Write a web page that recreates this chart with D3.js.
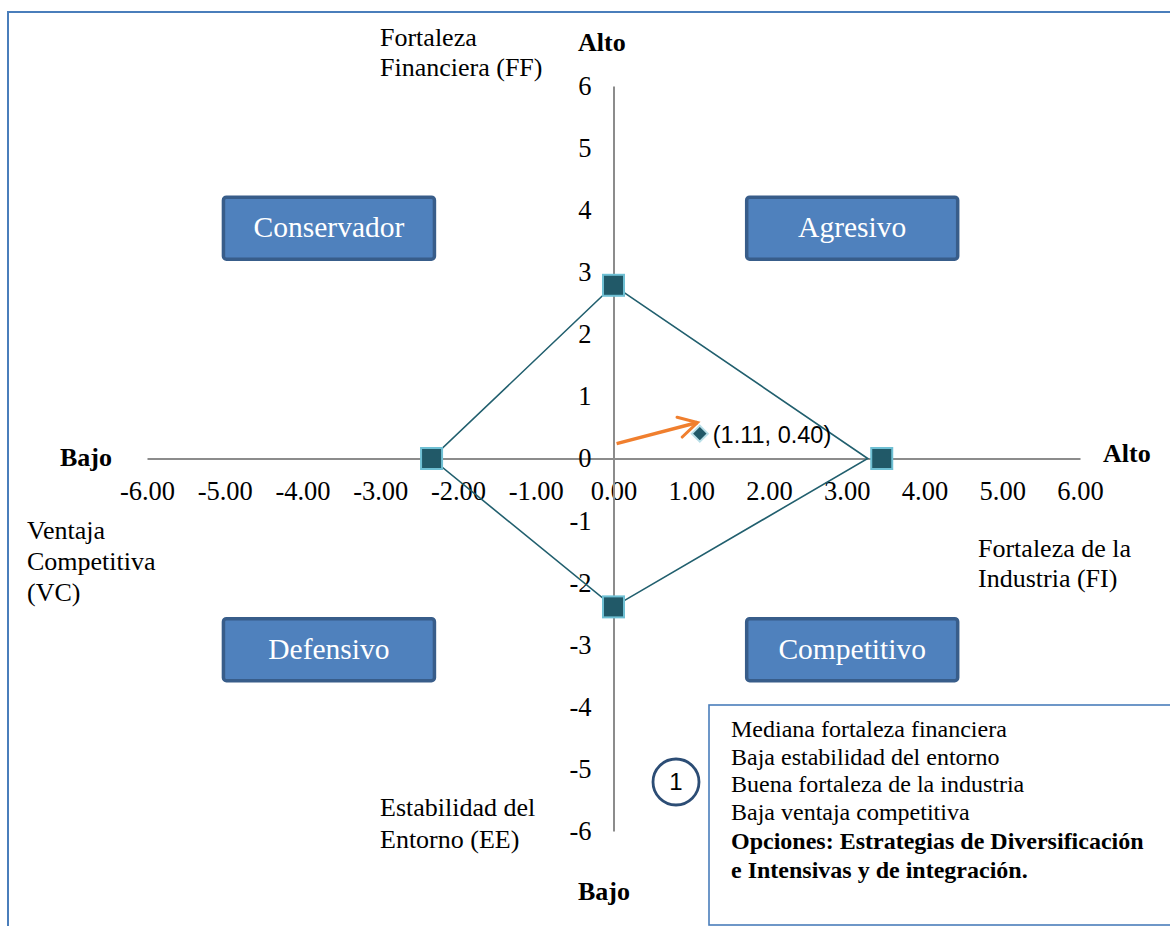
<!DOCTYPE html>
<html>
<head>
<meta charset="utf-8">
<script src="https://cdn.jsdelivr.net/npm/d3@7"></script>
<style>
  html, body { margin: 0; padding: 0; background: #ffffff; }
  svg { display: block; }
</style>
</head>
<body>
<svg id="chart" width="1170" height="926"></svg>
<script>
// ---- Data --------------------------------------------------------------
const xTickValues = [-6, -5, -4, -3, -2, -1, 0, 1, 2, 3, 4, 5, 6];
const yTickValues = [-6, -5, -4, -3, -2, -1, 0, 1, 2, 3, 4, 5, 6];

// Vertices of the PEYEA polygon: FF (top), FI (right), EE (bottom), VC (left)
const vertexNames = ["FF", "FI", "EE", "VC"];
const vertexX = [0, 3.27, 0, -2.34];
const vertexY = [2.79, 0, -2.39, 0];

// Square markers of the series
const markerX = [0, 3.45, 0, -2.34];
const markerY = [2.79, 0, -2.39, 0];

// Resulting direction vector
const resultX = 1.11;
const resultY = 0.40;
const resultLabel = "(1.11, 0.40)";

// Arrow pointing at the result (start / end, data units)
const arrowX = [0.04, 1.08];
const arrowY = [0.24, 0.58];

const quadrantNames = ["Conservador", "Agresivo", "Defensivo", "Competitivo"];

const notesLines = [
  "Mediana fortaleza financiera",
  "Baja estabilidad del entorno",
  "Buena fortaleza de la industria",
  "Baja ventaja competitiva"
];
const notesBold = [
  "Opciones: Estrategias de Diversificación",
  "e Intensivas y de integración."
];

// ---- Layout ------------------------------------------------------------
const serif = "'Liberation Serif', 'Times New Roman', serif";
const sans = "'Liberation Sans', Arial, sans-serif";

const svg = d3.select("#chart");

const x = d3.scaleLinear().domain([-6, 6]).range([147, 1080]);
const y = d3.scaleLinear().domain([-6, 6]).range([831, 86]);

const fmtX = d => d.toFixed(2);
const fmtY = d => String(d);

// Outer frame
svg.append("path")
  .attr("d", "M1180,12 L8,12 L8,936")
  .attr("fill", "none")
  .attr("stroke", "#4a7ebb")
  .attr("stroke-width", 2);

// ---- Axes --------------------------------------------------------------
const xAxis = svg.append("g")
  .attr("transform", `translate(0,${y(0)})`)
  .call(d3.axisBottom(x).tickValues(xTickValues).tickFormat(fmtX)
    .tickSize(0).tickSizeOuter(0).tickPadding(23));

const yAxis = svg.append("g")
  .attr("transform", `translate(${x(0)},0)`)
  .call(d3.axisLeft(y).tickValues(yTickValues).tickFormat(fmtY)
    .tickSize(0).tickSizeOuter(0).tickPadding(22));

[xAxis, yAxis].forEach(g => {
  g.select(".domain").attr("stroke", "#8c8c8c").attr("stroke-width", 2);
  g.selectAll("text")
    .attr("fill", "#000")
    .style("font-family", serif)
    .style("font-size", "26.5px");
});

// ---- Axis captions -----------------------------------------------------
function multiline(lines, x0, y0, step, opts = {}) {
  const t = svg.append("text")
    .attr("x", x0).attr("y", y0)
    .attr("fill", "#000")
    .style("font-family", serif)
    .style("font-size", (opts.size || 26) + "px")
    .style("font-weight", opts.bold ? "bold" : "normal")
    .attr("text-anchor", opts.anchor || "start");
  lines.forEach((l, i) => {
    t.append("tspan").attr("x", x0).attr("y", y0 + i * step).text(l);
  });
  return t;
}

multiline(["Fortaleza", "Financiera (FF)"], 380, 46, 30);
multiline(["Alto"], 578, 51, 0, { bold: true });
multiline(["Bajo"], 60, 466, 0, { bold: true });
multiline(["Alto"], 1103, 462, 0, { bold: true });
multiline(["Ventaja", "Competitiva", "(VC)"], 27, 539, 31);
multiline(["Fortaleza de la", "Industria (FI)"], 978, 557, 30);
multiline(["Estabilidad del", "Entorno (EE)"], 380, 816, 32);
multiline(["Bajo"], 578, 900, 0, { bold: true });

// ---- Quadrant boxes ----------------------------------------------------
const boxW = 211, boxH = 62;
const boxCenters = [
  [x(-3.66), y(3.71)],
  [x(3.07), y(3.71)],
  [x(-3.66), y(-3.08)],
  [x(3.07), y(-3.08)]
];
const boxes = svg.append("g").selectAll("g")
  .data(quadrantNames)
  .join("g")
  .attr("transform", (d, i) => `translate(${boxCenters[i][0]},${boxCenters[i][1]})`);
boxes.append("rect")
  .attr("x", -boxW / 2).attr("y", -boxH / 2)
  .attr("width", boxW).attr("height", boxH)
  .attr("rx", 3)
  .attr("fill", "#4f81bd")
  .attr("stroke", "#385d8a")
  .attr("stroke-width", 3.5);
boxes.append("text")
  .attr("text-anchor", "middle")
  .attr("dy", "0.3em")
  .attr("fill", "#ffffff")
  .style("font-family", serif)
  .style("font-size", "29.5px")
  .text(d => d);

// ---- Polygon -----------------------------------------------------------
const poly = vertexNames.map((n, i) => [x(vertexX[i]), y(vertexY[i])]);
svg.append("path")
  .attr("d", d3.line()(poly.concat([poly[0]])))
  .attr("fill", "none")
  .attr("stroke", "#215f6e")
  .attr("stroke-width", 1.6);

const msz = 21;
svg.append("g").selectAll("rect")
  .data(markerX.map((mx, i) => [mx, markerY[i]]))
  .join("rect")
  .attr("x", d => x(d[0]) - msz / 2)
  .attr("y", d => y(d[1]) - msz / 2)
  .attr("width", msz).attr("height", msz)
  .attr("fill", "#215968")
  .attr("stroke", "#6fc0d4")
  .attr("stroke-width", 2);

// ---- Result vector -----------------------------------------------------
const defs = svg.append("defs");
defs.append("marker")
  .attr("id", "arrowHead")
  .attr("viewBox", "0 0 12 12")
  .attr("refX", 10).attr("refY", 6)
  .attr("markerWidth", 7).attr("markerHeight", 7)
  .attr("markerUnits", "strokeWidth")
  .attr("orient", "auto")
  .append("path")
  .attr("d", "M1,1 L10,6 L1,11")
  .attr("fill", "none")
  .attr("stroke", "#f07f2e")
  .attr("stroke-width", 1.5)
  .attr("stroke-linecap", "round");

svg.append("line")
  .attr("x1", x(arrowX[0])).attr("y1", y(arrowY[0]))
  .attr("x2", x(arrowX[1])).attr("y2", y(arrowY[1]))
  .attr("stroke", "#f07f2e")
  .attr("stroke-width", 3.5)
  .attr("marker-end", "url(#arrowHead)");

const ds = 8;
svg.append("path")
  .attr("transform", `translate(${x(resultX)},${y(resultY)})`)
  .attr("d", `M0,${-ds} L${ds},0 L0,${ds} L${-ds},0 Z`)
  .attr("fill", "#215968")
  .attr("stroke", "#b9dfe8")
  .attr("stroke-width", 2);

svg.append("text")
  .attr("x", x(resultX) + 13)
  .attr("y", y(resultY) + 9)
  .attr("fill", "#000")
  .style("font-family", sans)
  .style("font-size", "23.5px")
  .text(resultLabel);

// ---- Notes box ---------------------------------------------------------
svg.append("rect")
  .attr("x", 709).attr("y", 705)
  .attr("width", 480).attr("height", 220)
  .attr("fill", "#ffffff")
  .attr("stroke", "#4a7ebb")
  .attr("stroke-width", 1.6);

const notes = svg.append("text")
  .attr("fill", "#000")
  .style("font-family", serif)
  .style("font-size", "24px");
notesLines.forEach((l, i) => {
  notes.append("tspan").attr("x", 731).attr("y", 737 + i * 27.5).text(l);
});
notesBold.forEach((l, i) => {
  notes.append("tspan").attr("x", 731).attr("y", 849 + i * 28.5)
    .style("font-weight", "bold").text(l);
});

svg.append("circle")
  .attr("cx", 676).attr("cy", 782).attr("r", 23)
  .attr("fill", "#ffffff")
  .attr("stroke", "#2c4d75")
  .attr("stroke-width", 2.8);
svg.append("text")
  .attr("x", 676).attr("y", 782)
  .attr("dy", "0.35em")
  .attr("text-anchor", "middle")
  .attr("fill", "#000")
  .style("font-family", sans)
  .style("font-size", "24px")
  .text("1");
</script>
</body>
</html>
